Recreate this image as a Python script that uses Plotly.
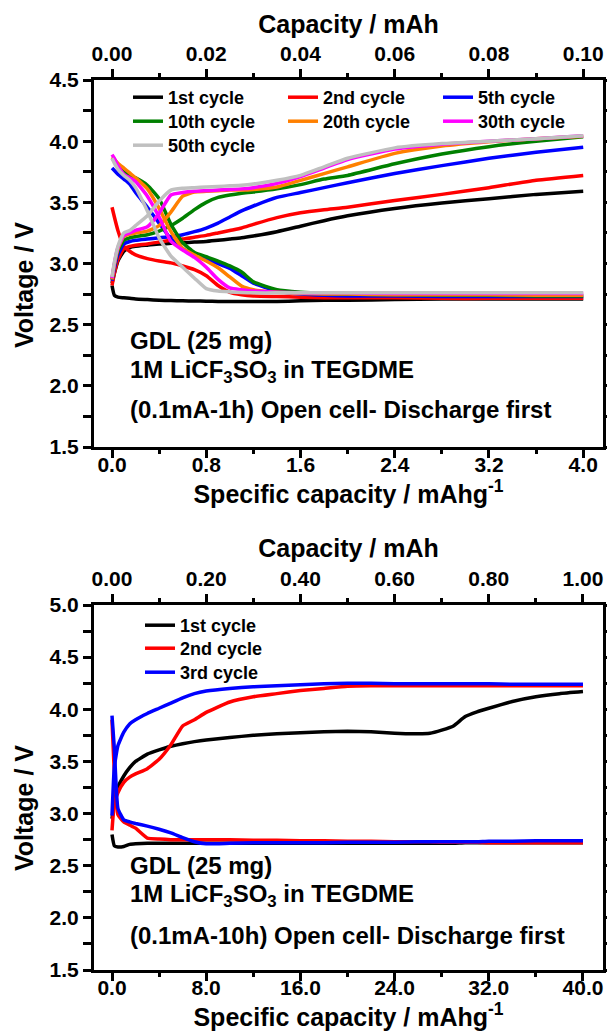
import plotly.graph_objects as go

W, H = 607, 1033
FONT = "Liberation Sans, Arial, sans-serif"

# ---------------- Top panel: 0.1 mA - 1 h ----------------
x_top = [0.0, 0.02, 0.05, 0.1, 0.15, 0.2, 0.3, 0.4, 0.5, 0.6, 0.7, 0.8, 0.9,
         1.0, 1.1, 1.2, 1.4, 1.6, 1.8, 2.0, 2.4, 2.8, 3.2, 3.6, 4.0]

names_top = ["1st cycle", "2nd cycle", "5th cycle", "10th cycle",
             "20th cycle", "30th cycle", "50th cycle"]
colors_top = ["#000000", "#FF0000", "#0000FF", "#008000",
              "#FF8000", "#FF00FF", "#C0C0C0"]

dis_c1 = [2.82, 2.74, 2.725, 2.72, 2.715, 2.71, 2.705, 2.70, 2.697, 2.695, 2.693, 2.692, 2.69,
          2.69, 2.69, 2.69, 2.69, 2.695, 2.70, 2.70, 2.705, 2.71, 2.71, 2.71, 2.71]
chg_c1 = [2.84, 2.92, 3.02, 3.10, 3.13, 3.14, 3.15, 3.16, 3.165, 3.17, 3.175, 3.18, 3.19,
          3.20, 3.21, 3.225, 3.26, 3.305, 3.35, 3.39, 3.45, 3.495, 3.53, 3.565, 3.59]
dis_c2 = [3.46, 3.38, 3.27, 3.14, 3.10, 3.07, 3.04, 3.02, 3.005, 2.98, 2.95, 2.90, 2.82,
          2.765, 2.745, 2.735, 2.73, 2.725, 2.72, 2.72, 2.72, 2.715, 2.715, 2.715, 2.715]
chg_c2 = [2.82, 2.92, 3.03, 3.12, 3.14, 3.15, 3.16, 3.175, 3.19, 3.20, 3.215, 3.23, 3.25,
          3.27, 3.29, 3.32, 3.375, 3.415, 3.44, 3.46, 3.515, 3.565, 3.62, 3.68, 3.72]
dis_c5 = [3.78, 3.76, 3.73, 3.69, 3.65, 3.58, 3.46, 3.33, 3.20, 3.12, 3.07, 3.035, 3.00,
          2.96, 2.90, 2.84, 2.775, 2.75, 2.74, 2.735, 2.735, 2.73, 2.73, 2.73, 2.73]
chg_c5 = [2.86, 2.96, 3.07, 3.16, 3.18, 3.19, 3.20, 3.21, 3.22, 3.235, 3.26, 3.29, 3.33,
          3.38, 3.43, 3.47, 3.54, 3.58, 3.62, 3.66, 3.735, 3.80, 3.86, 3.91, 3.95]
dis_c10 = [3.86, 3.84, 3.80, 3.75, 3.72, 3.70, 3.64, 3.53, 3.32, 3.17, 3.09, 3.055, 3.02,
           2.98, 2.93, 2.85, 2.785, 2.765, 2.755, 2.75, 2.745, 2.74, 2.74, 2.735, 2.735]
chg_c10 = [2.87, 2.98, 3.10, 3.19, 3.21, 3.22, 3.235, 3.265, 3.31, 3.37, 3.44, 3.50, 3.54,
           3.56, 3.575, 3.585, 3.61, 3.645, 3.69, 3.72, 3.815, 3.895, 3.955, 4.00, 4.035]
dis_c20 = [3.87, 3.85, 3.82, 3.78, 3.74, 3.70, 3.61, 3.45, 3.26, 3.125, 3.07, 3.02, 2.965,
           2.89, 2.815, 2.785, 2.765, 2.755, 2.75, 2.75, 2.745, 2.745, 2.745, 2.74, 2.74]
chg_c20 = [2.87, 2.99, 3.12, 3.22, 3.24, 3.25, 3.265, 3.31, 3.42, 3.55, 3.585, 3.59, 3.595,
           3.60, 3.60, 3.605, 3.625, 3.68, 3.735, 3.79, 3.90, 3.96, 3.995, 4.02, 4.04]
dis_c30 = [3.89, 3.86, 3.80, 3.73, 3.70, 3.67, 3.55, 3.38, 3.18, 3.11, 3.05, 2.97, 2.87,
           2.80, 2.785, 2.775, 2.765, 2.76, 2.76, 2.76, 2.755, 2.755, 2.755, 2.755, 2.755]
chg_c30 = [2.88, 3.00, 3.13, 3.23, 3.25, 3.27, 3.30, 3.41, 3.56, 3.58, 3.59, 3.595, 3.60,
           3.605, 3.61, 3.62, 3.655, 3.71, 3.78, 3.85, 3.935, 3.975, 4.00, 4.02, 4.045]
dis_c50 = [3.86, 3.82, 3.77, 3.72, 3.68, 3.62, 3.43, 3.21, 3.06, 2.97, 2.88, 2.795, 2.775,
           2.768, 2.763, 2.76, 2.76, 2.76, 2.76, 2.76, 2.76, 2.76, 2.76, 2.76, 2.76]
chg_c50 = [2.89, 3.01, 3.14, 3.25, 3.27, 3.31, 3.39, 3.51, 3.60, 3.615, 3.62, 3.625, 3.63,
           3.635, 3.64, 3.65, 3.68, 3.72, 3.79, 3.86, 3.945, 3.98, 4.00, 4.02, 4.045]

dis_top = [dis_c1, dis_c2, dis_c5, dis_c10, dis_c20, dis_c30, dis_c50]
chg_top = [chg_c1, chg_c2, chg_c5, chg_c10, chg_c20, chg_c30, chg_c50]

# ---------------- Bottom panel: 0.1 mA - 10 h ----------------
x_bot = [0, 0.2, 0.5, 1, 1.5, 2, 3, 4, 5, 6, 7, 8, 10, 12, 14, 16, 18, 20, 22, 24,
         26, 27, 28, 29, 30, 31, 32, 34, 36, 38, 40]

names_bot = ["1st cycle", "2nd cycle", "3rd cycle"]
colors_bot = ["#000000", "#FF0000", "#0000FF"]

dis_b1 = [2.80, 2.69, 2.68, 2.685, 2.705, 2.71, 2.715, 2.715, 2.715, 2.715, 2.715, 2.715,
          2.715, 2.715, 2.715, 2.715, 2.715, 2.715, 2.715, 2.715, 2.715, 2.715, 2.715,
          2.715, 2.72, 2.72, 2.72, 2.72, 2.72, 2.72, 2.72]
chg_b1 = [2.95, 3.10, 3.25, 3.36, 3.44, 3.50, 3.57, 3.61, 3.645, 3.67, 3.69, 3.705,
          3.73, 3.75, 3.765, 3.775, 3.785, 3.79, 3.785, 3.77, 3.765, 3.77, 3.80,
          3.84, 3.93, 3.975, 4.01, 4.075, 4.12, 4.15, 4.17]
dis_b2 = [3.90, 3.40, 2.99, 2.92, 2.89, 2.86, 2.765, 2.755, 2.75, 2.75, 2.75, 2.75,
          2.748, 2.745, 2.745, 2.74, 2.74, 2.735, 2.735, 2.73, 2.73, 2.73, 2.725,
          2.725, 2.725, 2.725, 2.72, 2.72, 2.72, 2.72, 2.72]
chg_b2 = [2.84, 3.10, 3.20, 3.30, 3.35, 3.38, 3.43, 3.52, 3.66, 3.84, 3.90, 3.97,
          4.07, 4.12, 4.15, 4.18, 4.20, 4.22, 4.225, 4.225, 4.225, 4.225, 4.225,
          4.225, 4.225, 4.225, 4.225, 4.225, 4.225, 4.225, 4.225]
dis_b3 = [3.94, 3.62, 3.05, 2.94, 2.92, 2.905, 2.88, 2.85, 2.815, 2.77, 2.73, 2.71,
          2.715, 2.72, 2.72, 2.72, 2.72, 2.725, 2.725, 2.725, 2.73, 2.73, 2.73,
          2.73, 2.73, 2.73, 2.735, 2.735, 2.74, 2.74, 2.74]
chg_b3 = [2.98, 3.45, 3.65, 3.78, 3.86, 3.90, 3.96, 4.01, 4.06, 4.11, 4.15, 4.175,
          4.20, 4.215, 4.225, 4.235, 4.245, 4.25, 4.25, 4.245, 4.245, 4.245, 4.245,
          4.245, 4.245, 4.245, 4.245, 4.24, 4.24, 4.24, 4.24]

dis_bot = [dis_b1, dis_b2, dis_b3]
chg_bot = [chg_b1, chg_b2, chg_b3]

MASS_G = 0.025  # 25 mg electrode: mAh = mAh/g * g

# legend rows (one legend per row so row spacing can match the original)
legend_top = ["legend", "legend", "legend", "legend2", "legend2", "legend2", "legend3"]
legend_bot = ["legend4", "legend5", "legend6"]

fig = go.Figure()
for name, col, d, c, lg in zip(names_top, colors_top, dis_top, chg_top, legend_top):
    fig.add_trace(go.Scatter(
        x=x_top + [None] + x_top, y=d + [None] + c, mode="lines", name=name,
        line=dict(color=col, width=3.5, shape="spline", smoothing=0.5),
        xaxis="x", yaxis="y", legend=lg))
for name, col, d, c, lg in zip(names_bot, colors_bot, dis_bot, chg_bot, legend_bot):
    fig.add_trace(go.Scatter(
        x=x_bot + [None] + x_bot, y=d + [None] + c, mode="lines", name=name,
        line=dict(color=col, width=3.5, shape="spline", smoothing=0.4),
        xaxis="x3", yaxis="y2", legend=lg))

# the same last-cycle charge drawn invisibly against the absolute-capacity axes,
# so that the top (mAh) axes are rendered
fig.add_trace(go.Scatter(x=[v * MASS_G for v in x_top], y=chg_c50, mode="lines",
                         line=dict(width=0, color="rgba(0,0,0,0)"), showlegend=False,
                         hoverinfo="skip", xaxis="x2", yaxis="y"))
fig.add_trace(go.Scatter(x=[v * MASS_G for v in x_bot], y=chg_b3, mode="lines",
                         line=dict(width=0, color="rgba(0,0,0,0)"), showlegend=False,
                         hoverinfo="skip", xaxis="x4", yaxis="y2"))

tickfont = dict(family=FONT, size=21, color="black", weight="bold")
titlefont = dict(family=FONT, size=25, color="black", weight="bold")


def ax(**kw):
    base = dict(showline=True, linewidth=3, linecolor="black", ticks="outside",
                ticklen=8, tickwidth=3, tickcolor="black", showgrid=False,
                zeroline=False, tickfont=tickfont, tickmode="linear", tick0=0,
                automargin=False)
    base.update(kw)
    return base


def minor(dt):
    return dict(ticks="outside", ticklen=4, tickwidth=3, tickcolor="black",
                dtick=dt, tick0=0, showgrid=False)


xdom = [94 / W, 603 / W]
ydom_top = [1 - 447 / H, 1 - 80 / H]
ydom_bot = [1 - 970 / H, 1 - 605 / H]
xr_top = [-0.153, 4.168]
xr_bot = [-1.529, 41.70]

legfont = dict(family=FONT, size=18, color="black", weight="bold")


def leg(xpx, ytop_px):
    return dict(x=xpx / W, y=1 - ytop_px / H, xanchor="left", yanchor="top",
                orientation="h", entrywidth=110, entrywidthmode="pixels",
                bgcolor="rgba(0,0,0,0)", borderwidth=0, traceorder="normal",
                font=legfont)


fig.update_layout(
    width=W, height=H, margin=dict(l=0, r=0, t=0, b=0, pad=0, autoexpand=False),
    paper_bgcolor="white", plot_bgcolor="white",
    font=dict(family=FONT, color="black"),
    xaxis=ax(domain=xdom, anchor="y", range=xr_top, dtick=0.8, tickformat=".1f",
             minor=minor(0.4), ticklabelstandoff=-11,
             title=dict(text="Specific capacity / mAhg<sup>-1</sup>", font=titlefont, standoff=3)),
    xaxis2=ax(overlaying="x", side="top", anchor="y",
              range=[v * MASS_G for v in xr_top], dtick=0.02, tickformat=".2f",
              minor=minor(0.01),
              title=dict(text="Capacity / mAh", font=titlefont, standoff=1)),
    yaxis=ax(domain=ydom_top, anchor="x", range=[1.5, 4.5], dtick=0.5, tickformat=".1f",
             minor=minor(0.25), mirror="allticks"),
    xaxis3=ax(domain=xdom, anchor="y2", range=xr_bot, dtick=8, tickformat=".1f",
              minor=minor(4), ticklabelstandoff=-11,
              title=dict(text="Specific capacity / mAhg<sup>-1</sup>", font=titlefont, standoff=3)),
    xaxis4=ax(overlaying="x3", side="top", anchor="y2",
              range=[v * MASS_G for v in xr_bot], dtick=0.2, tickformat=".2f",
              minor=minor(0.1),
              title=dict(text="Capacity / mAh", font=titlefont, standoff=2)),
    yaxis2=ax(domain=ydom_bot, anchor="x3", range=[1.5, 5.0], dtick=0.5, tickformat=".1f",
              minor=minor(0.25), mirror="allticks"),
    legend=leg(128, 79),
    legend2=leg(128, 103),
    legend3=leg(128, 127),
    legend4=leg(140, 607),
    legend5=leg(140, 630),
    legend6=leg(140, 654),
)

annfont = dict(family=FONT, size=24, color="black", weight="bold")
notes_top = ["GDL (25 mg)", "1M LiCF<sub>3</sub>SO<sub>3</sub> in TEGDME",
             "(0.1mA-1h) Open cell- Discharge first"]
notes_bot = ["GDL (25 mg)", "1M LiCF<sub>3</sub>SO<sub>3</sub> in TEGDME",
             "(0.1mA-10h) Open cell- Discharge first"]
ys_top = [340, 371, 410]
ys_bot = [865, 895, 935]
for txt, yy in zip(notes_top, ys_top):
    fig.add_annotation(text=txt, xref="paper", yref="paper", x=128 / W, y=1 - yy / H,
                       xanchor="left", yanchor="middle", showarrow=False, font=annfont)
for txt, yy in zip(notes_bot, ys_bot):
    fig.add_annotation(text=txt, xref="paper", yref="paper", x=128 / W, y=1 - yy / H,
                       xanchor="left", yanchor="middle", showarrow=False, font=annfont)

for yy in [285, 808]:
    fig.add_annotation(text="Voltage / V", xref="paper", yref="paper", x=24 / W, y=1 - yy / H,
                       xanchor="center", yanchor="middle", textangle=-90, showarrow=False,
                       font=titlefont)

fig.write_html("out.html")
